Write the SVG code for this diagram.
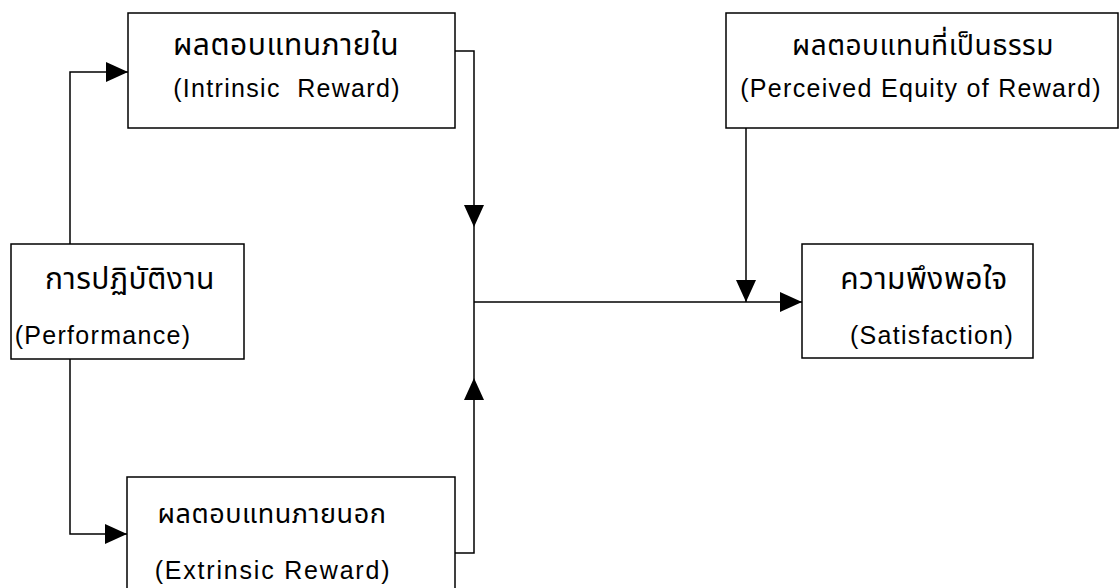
<svg xmlns="http://www.w3.org/2000/svg" width="1119" height="588" viewBox="0 0 1119 588">
<style>
.box{fill:#fff;stroke:#000;stroke-width:1.5}
.th{font-family:"Noto Sans Thai","Liberation Sans","Noto Sans",sans-serif;font-size:30px;letter-spacing:0.5px;fill:#000;text-anchor:middle}
.en{font-family:"Liberation Sans",Arial,sans-serif;font-size:25px;letter-spacing:1.3px;fill:#000;text-anchor:middle;white-space:pre}
.ln{fill:none;stroke:#000;stroke-width:1.5}
</style>
<defs>
<marker id="ah" viewBox="0 0 22 20" refX="22" refY="10" markerWidth="22" markerHeight="20" markerUnits="userSpaceOnUse" orient="auto">
<path d="M0,0 L22,10 L0,20 Z" fill="#000"/>
</marker>
</defs>
<rect width="1119" height="588" fill="#fff"/>
<g id="connectors">
<path class="ln" d="M70,244 V72 H128" marker-end="url(#ah)"/>
<path class="ln" d="M70,359 V534 H127" marker-end="url(#ah)"/>
<path class="ln" d="M455,51 H474 V227" marker-end="url(#ah)"/>
<path class="ln" d="M455,553 H474 V378" marker-end="url(#ah)"/>
<path class="ln" d="M474,227 V378"/>
<path class="ln" d="M474,302 H802" marker-end="url(#ah)"/>
<path class="ln" d="M746,128 V302" marker-end="url(#ah)"/>
</g>
<g id="intrinsic">
<rect class="box" x="128" y="13" width="327" height="115"/>
<text class="th" x="286" y="55">ผลตอบแทนภายใน</text>
<text class="en" x="287" y="97" xml:space="preserve">(Intrinsic  Reward)</text>
</g>
<g id="equity">
<rect class="box" x="726" y="13" width="392" height="115"/>
<text class="th" x="923" y="55" style="font-size:28px">ผลตอบแทนที่เป็นธรรม</text>
<text class="en" x="921" y="97">(Perceived Equity of Reward)</text>
</g>
<g id="performance">
<rect class="box" x="11" y="244" width="233" height="115"/>
<text class="th" x="130" y="289">การปฏิบัติงาน</text>
<text class="en" x="103" y="344">(Performance)</text>
</g>
<g id="satisfaction">
<rect class="box" x="802" y="244" width="231" height="114"/>
<text class="th" x="924" y="289">ความพึงพอใจ</text>
<text class="en" x="932" y="344">(Satisfaction)</text>
</g>
<g id="extrinsic">
<rect class="box" x="127" y="477" width="328" height="125"/>
<text class="th" x="272" y="523" style="font-size:27px">ผลตอบแทนภายนอก</text>
<text class="en" x="273" y="579" style="letter-spacing:1.8px">(Extrinsic Reward)</text>
</g>
</svg>
